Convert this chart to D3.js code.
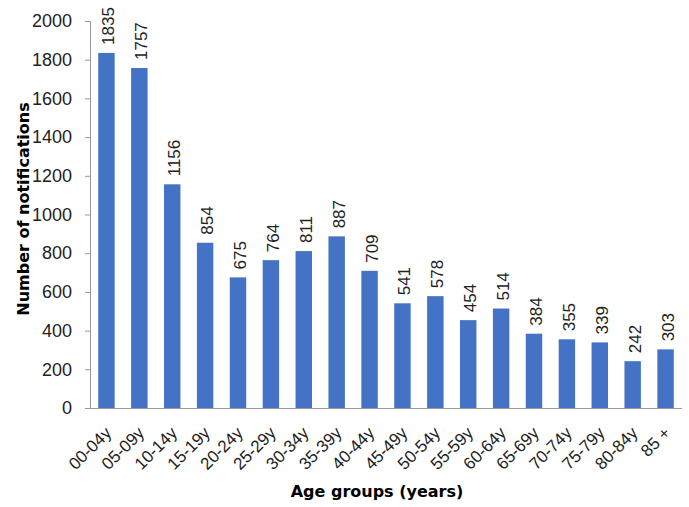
<!DOCTYPE html>
<html>
<head>
<meta charset="utf-8">
<script src="https://cdn.jsdelivr.net/npm/d3@7"></script>
<style>
  body { margin: 0; background: #fff; }
  text { font-family: "Liberation Sans", Arial, sans-serif; }
  .title { font-family: "DejaVu Sans", Verdana, sans-serif; font-weight: bold; }
</style>
</head>
<body>
<div id="chart"></div>
<script>
var ageGroups = ["00-04y", "05-09y", "10-14y", "15-19y", "20-24y", "25-29y", "30-34y", "35-39y", "40-44y",
                 "45-49y", "50-54y", "55-59y", "60-64y", "65-69y", "70-74y", "75-79y", "80-84y", "85 +"];
var notifications = [1835, 1757, 1156, 854, 675, 764, 811, 887, 709, 541, 578, 454, 514, 384, 355, 339, 242, 303];
var yTicks = [0, 200, 400, 600, 800, 1000, 1200, 1400, 1600, 1800, 2000];

var width = 689, height = 507;
var margin = {top: 21, right: 7, bottom: 99, left: 90};
var w = width - margin.left - margin.right;
var h = height - margin.top - margin.bottom;

var svg = d3.select("#chart").append("svg")
    .attr("width", width)
    .attr("height", height);

var g = svg.append("g")
    .attr("transform", "translate(" + margin.left + "," + margin.top + ")");

var x = d3.scaleBand()
    .domain(ageGroups)
    .range([0, w])
    .paddingInner(0.5)
    .paddingOuter(0.25);

var y = d3.scaleLinear()
    .domain([0, 2000])
    .range([h, 0]);

// y axis
var yAxis = g.append("g")
    .call(d3.axisLeft(y).tickValues(yTicks).tickFormat(d3.format("d")).tickSize(5).tickPadding(13));
yAxis.select(".domain").attr("stroke", "#999");
yAxis.selectAll(".tick line").attr("stroke", "#999");
yAxis.selectAll(".tick text").attr("font-size", 18).attr("fill", "#222");

// bars
g.selectAll("rect.bar")
    .data(notifications)
    .enter()
    .append("rect")
        .attr("class", "bar")
        .attr("x", function(d, i) { return x(ageGroups[i]); })
        .attr("y", function(d) { return y(d); })
        .attr("width", x.bandwidth())
        .attr("height", function(d) { return h - y(d); })
        .style("fill", "#4472c4");

// value labels
g.selectAll("text.val")
    .data(notifications)
    .enter()
    .append("text")
        .attr("class", "val")
        .attr("transform", function(d, i) {
            return "translate(" + (x(ageGroups[i]) + x.bandwidth() / 2 + 8) + "," + (y(d) - 8) + ") rotate(-90)";
        })
        .attr("font-size", 17)
        .attr("fill", "#222")
        .text(function(d) { return d; });

// x axis
var xAxis = g.append("g")
    .attr("transform", "translate(0," + h + ")")
    .call(d3.axisBottom(x).tickSize(0).tickPadding(0));
xAxis.select(".domain").attr("stroke", "#999").attr("d", "M0,0.5H" + w);
xAxis.selectAll(".tick text")
    .attr("font-size", 17)
    .attr("fill", "#222")
    .attr("text-anchor", "end")
    .attr("dy", null)
    .attr("transform", "translate(6,26) rotate(-45)");

// axis titles
svg.append("text")
    .attr("class", "title")
    .attr("x", 377)
    .attr("y", 497)
    .attr("text-anchor", "middle")
    .attr("font-size", 16)
    .text("Age groups (years)");

svg.append("text")
    .attr("class", "title")
    .attr("transform", "translate(29,209) rotate(-90)")
    .attr("text-anchor", "middle")
    .attr("font-size", 16)
    .text("Number of notifications");
</script>
</body>
</html>
